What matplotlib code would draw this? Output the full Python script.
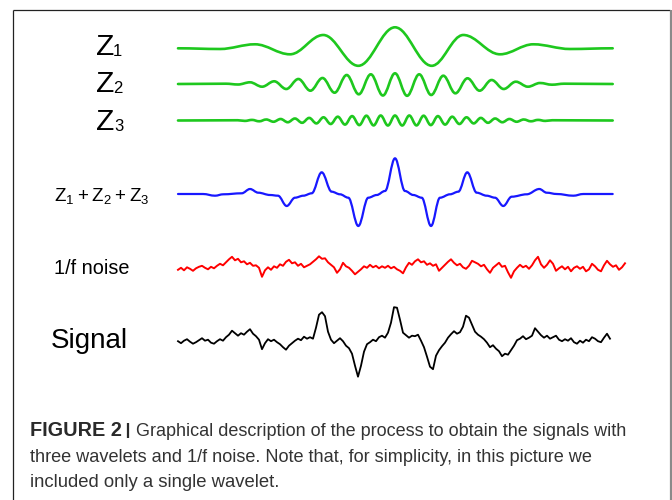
import numpy as np
import matplotlib
matplotlib.use("Agg")
import matplotlib.pyplot as plt
from matplotlib.path import Path
from matplotlib.patches import PathPatch

# ---------------- data ----------------
# time axis in samples of the drawn trace, amplitude positive = up
Z1_t = [0, 42, 77, 112, 145.3, 180.3, 217, 253.7, 285.3, 322, 355.3, 392, 434.7]
Z1_amp = [0, -0.7, 4, -6, 13.3, -17.5, 21, -17.5, 13.3, -6, 4, -0.7, 0]

Z2_t = [0, 47.9, 60.0, 72.0, 84.1, 96.2, 108.3, 120.4, 132.4, 144.5, 156.6, 168.7,
        180.8, 192.8, 204.9, 217.0, 229.1, 241.2, 253.2, 265.3, 277.4, 289.5,
        301.6, 313.6, 325.7, 337.8, 349.9, 362.0, 374.0, 386.1, 434.7]
Z2_amp = [0, 0.3, -0.5, 1.7, -2.7, 2.7, -5, 5, -6.7, 6, -8.7, 9, -10.3, 9.7, -11.5,
          10.7, -11.8, 9.7, -11, 8.3, -9.3, 5.7, -6.7, 4, -5, 2.3, -2.7, 1, -0.7, 0.3, 0]

Z3_t = [0, 59.7, 66.9, 74.0, 81.2, 88.3, 95.5, 102.6, 109.8, 116.9, 124.1, 131.2,
        138.4, 145.5, 152.7, 159.8, 167.0, 174.1, 181.3, 188.4, 195.6, 202.7, 209.9,
        217.0, 224.2, 231.3, 238.5, 245.6, 252.8, 259.9, 267.1, 274.2, 281.4, 288.5,
        295.7, 302.8, 310.0, 317.1, 324.3, 331.4, 338.6, 345.7, 352.9, 360.0, 367.2,
        374.3, 434.7]
Z3_amp = [0, 0.25, -0.4, 0.6, -0.8, 1.0, -1.25, 1.5, -1.75, 2.0, -2.3, 2.6, -2.9,
          3.2, -3.5, 3.8, -4.1, 4.4, -4.6, 4.8, -4.9, 5.0, -5.0, 5.0, -5.0, 5.0,
          -4.9, 4.8, -4.6, 4.4, -4.1, 3.8, -3.5, 3.2, -2.9, 2.6, -2.3, 2.0, -1.75,
          1.5, -1.25, 1.0, -0.8, 0.6, -0.4, 0.25, 0]

SUM_t = [0, 25, 37, 45.3, 63.7, 72, 80.3, 92, 100, 108.7, 117, 125.3, 133.7, 143.7,
         153.7, 162, 170.3, 180.3, 190.3, 198.7, 207, 217, 227, 235.3, 243.7, 253,
         262, 272, 280.3, 289.3, 298.7, 308.7, 317, 325.3, 333.7, 348.7, 361.3,
         368.7, 378.7, 395.3, 405.3, 434.7]
SUM_amp = [0, 0, -1.7, -0.3, 0.7, 5, 1.3, -1, -1.7, -12, -3.7, -1.7, 0.7, 21.7,
           2.3, -0.3, -3.7, -32, -3.7, -1, 3, 35.7, 3, -1, -3.7, -32, -3.7, -0.3,
           2.3, 21.7, 1.3, -1.7, -3.7, -12, -2.7, -0.3, 5, 1.3, 0, -1.7, 0, 0]

NOISE = [-1.5, 0.5, -2.0, 1.0, -0.5, -2.5, 0.0, 1.5, 2.5, 0.5,
         -1.0, 1.5, 0.0, 2.5, 4.5, 3.0, 6.0, 9.0, 11.5, 8.0,
         9.5, 6.0, 7.0, 4.0, 5.5, 2.5, 3.0, 0.5, -8.5, -2.0,
         1.0, -1.5, 2.0, 0.5, 4.0, 2.5, 6.5, 8.5, 5.0, 6.0,
         2.5, 4.5, 1.0, 2.5, 4.0, 6.5, 9.0, 12.0, 9.5, 10.0,
         6.0, 3.5, 1.0, -4.5, -1.0, 5.5, 2.0, 0.5, -2.5, -6.0,
         -3.5, -1.0, 2.0, 0.5, 3.5, 1.0, 2.5, 0.0, 2.0, 0.5,
         2.5, 0.0, 1.5, -1.0, -2.5, -5.0, 1.0, 5.5, 3.5, 7.0,
         9.0, 6.0, 7.0, 3.5, 5.0, 2.5, 4.0, -2.5, 0.5, 3.5,
         6.5, 9.0, 5.5, 3.0, 4.5, 1.0, -0.5, 2.5, 7.5, 6.0,
         4.5, 2.0, 3.5, -1.0, -4.5, 0.5, 3.0, 5.5, 1.5, 2.5,
         -4.0, -9.5, -3.0, 0.5, 3.5, 1.0, 2.5, -0.5, 3.0, 8.0,
         11.5, 4.0, 0.5, 3.5, 8.0, 4.5, -2.5, 0.0, 2.0, -1.0,
         1.5, -3.0, 0.5, 2.0, -0.5, 1.5, -3.0, -1.0, 4.5, 2.0,
         -1.5, -3.0, 3.0, 7.5, 4.0, 1.5, 3.0, -1.5, 1.0, 5.0]

SIGNAL = [0.5, -1.5, 1.0, 2.5, 0.0, -2.0, -0.5, 1.5, 3.5, 1.0,
          2.0, -1.0, -2.0, 0.5, 2.5, 1.0, 4.5, 7.0, 11.0, 8.5,
          6.0, 8.5, 7.0, 10.0, 12.5, 8.0, 5.5, 2.0, -7.5, -1.5,
          2.5, 0.5, 2.0, -0.5, -2.5, -5.5, -8.0, -4.0, -1.5, 1.0,
          3.0, 1.5, 5.0, 3.0, 4.5, 3.0, 14.0, 27.0, 29.5, 25.5,
          10.0, 2.0, -1.5, 1.0, 3.5, 0.5, -4.0, -6.5, -12.0, -24.0,
          -35.0, -24.0, -10.0, -2.5, -0.5, 2.0, 0.5, 4.5, 6.0, 4.0,
          9.0, 19.0, 34.5, 34.0, 22.0, 9.0, 6.5, 4.0, 6.0, 5.5,
          7.0, 1.0, -5.5, -15.0, -25.0, -27.5, -14.0, -8.5, -4.5, -1.0,
          4.0, 7.5, 10.5, 8.0, 9.5, 15.0, 26.0, 24.0, 17.0, 10.0,
          7.0, 5.0, 2.5, -1.0, -5.5, -3.5, -7.0, -9.5, -14.5, -12.0,
          -13.0, -8.5, -4.0, 1.5, 3.0, 5.5, 2.5, 4.0, 6.0, 13.5,
          10.0, 6.5, 4.0, 6.0, 3.0, 4.5, 6.0, 2.0, 0.5, 2.5,
          1.0, 3.5, -0.5, -2.0, 1.0, -1.0, 2.0, 0.5, 4.5, 3.0,
          0.5, -0.5, 4.0, 8.0, 3.0]

LABELS = ["1/f noise", "Signal"]
CAPTION_BOLD = "FIGURE 2"
CAPTION_LINES = ["Graphical description of the process to obtain the signals with",
                 "three wavelets and 1/f noise. Note that, for simplicity, in this picture we",
                 "included only a single wavelet."]

# ---------------- layout ----------------
X0 = 178.0          # left end of the traces (px)
NOISE_STEP = 3.0    # px per noise sample
K = 0.3642          # bezier handle fraction (smooth curve between read points)
GREEN = "#1ec81e"
BLUE = "#1818ff"
FONT = "Liberation Sans"

fig = plt.figure(figsize=(6.72, 5.0), dpi=100)
ax = fig.add_axes([0, 0, 1, 1])
ax.set_xlim(0, 672)
ax.set_ylim(500, 0)
ax.axis("off")


def smooth_trace(t, amp, base, color, lw):
    verts = [(X0 + t[0], base - amp[0])]
    codes = [Path.MOVETO]
    for i in range(1, len(t)):
        xa, ya = X0 + t[i - 1], base - amp[i - 1]
        xb, yb = X0 + t[i], base - amp[i]
        dx = xb - xa
        verts += [(xa + K * dx, ya), (xb - K * dx, yb), (xb, yb)]
        codes += [Path.CURVE4] * 3
    ax.add_patch(PathPatch(Path(verts, codes), fill=False, edgecolor=color,
                           lw=lw, capstyle="round", joinstyle="round"))


smooth_trace(Z1_t, Z1_amp, 48.3, GREEN, 1.9)
smooth_trace(Z2_t, Z2_amp, 84.0, GREEN, 1.9)
smooth_trace(Z3_t, Z3_amp, 120.5, GREEN, 1.9)
smooth_trace(SUM_t, SUM_amp, 194.0, BLUE, 1.6)

noise = np.array(NOISE)
ax.plot(X0 + np.arange(len(noise)) * NOISE_STEP, 268.3 - noise, color="#ff0000", lw=1.4)
sig = np.array(SIGNAL)
ax.plot(X0 + np.arange(len(sig)) * NOISE_STEP, 341.7 - sig, color="#000000", lw=1.3)

# labels
for sub, base, subx in [("1", 55, 113), ("2", 91.7, 113), ("3", 130, 114.5)]:
    ax.text(96, base, "Z", fontsize=21.6, family=FONT, va="baseline", ha="left")
    ax.text(subx, base + 1, sub, fontsize=12, family=FONT, va="baseline", ha="left")

plt.rcParams["mathtext.fontset"] = "custom"
plt.rcParams["mathtext.rm"] = FONT
ax.text(54, 201, r"$\mathrm{Z_1 + Z_2 + Z_3}$", fontsize=13.5, va="baseline", ha="left")
ax.text(54, 274.5, LABELS[0], fontsize=14.3, family=FONT, va="baseline", ha="left")
ax.text(51, 347.5, LABELS[1], fontsize=20, family=FONT, va="baseline", ha="left")

# caption
ax.text(30, 436, CAPTION_BOLD, fontsize=14.3, family=FONT, weight="bold",
        color="#2a2a2a", va="baseline", ha="left")
ax.plot([128, 128], [423, 438], color="#2a2a2a", lw=1.6, solid_capstyle="butt")
ax.text(136, 436, CAPTION_LINES[0], fontsize=13.0, family=FONT, color="#333333",
        va="baseline", ha="left")
ax.text(30, 461.5, CAPTION_LINES[1], fontsize=13.1, family=FONT, color="#333333",
        va="baseline", ha="left")
ax.text(30, 487, CAPTION_LINES[2], fontsize=13.3, family=FONT, color="#333333",
        va="baseline", ha="left")

# frame
ax.plot([13, 670], [10, 10], color="#222222", lw=0.9, solid_capstyle="butt")
ax.plot([13, 13], [10, 500], color="#222222", lw=0.9, solid_capstyle="butt")
ax.plot([670.5, 670.5], [10, 500], color="#8a8a8a", lw=1.6, solid_capstyle="butt")

fig.savefig("out.png", dpi=100)
